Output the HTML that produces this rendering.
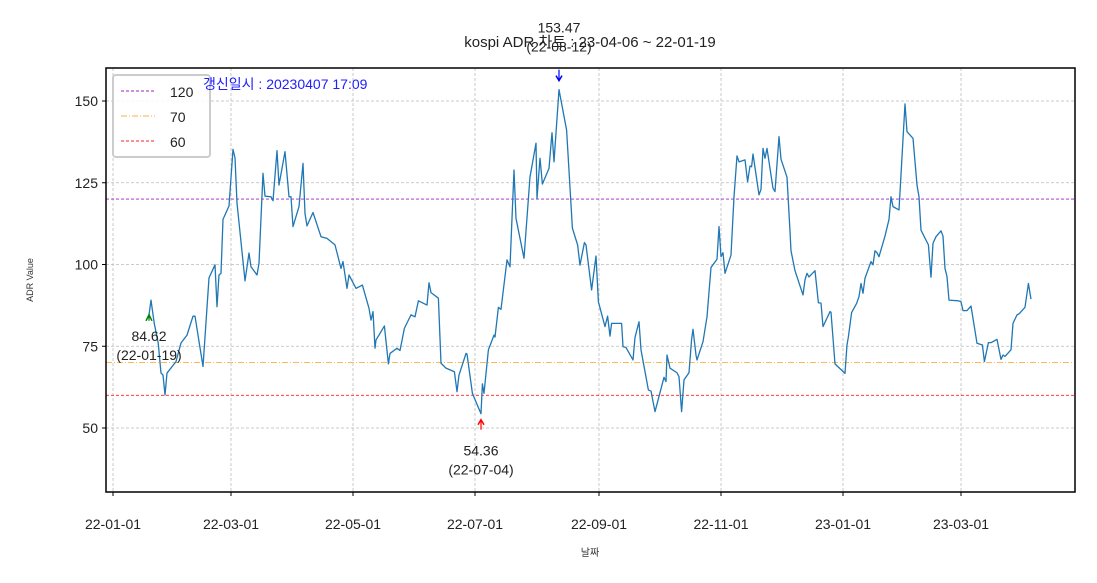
<!DOCTYPE html>
<html><head><meta charset="utf-8"><style>
body{margin:0;background:#fff;}
svg{display:block;font-family:"Liberation Sans","Noto Sans CJK KR",sans-serif;}
</style></head><body>
<svg id="chart" width="1097" height="583" viewBox="0 0 1097 583" xmlns="http://www.w3.org/2000/svg">
<rect x="0" y="0" width="1097" height="583" fill="#fff"/>
<g id="grid"></g><g id="refs"></g><g id="series"></g><g id="ticks"></g>
<rect x="106" y="68" width="969" height="424" fill="none" stroke="#000" stroke-width="1.5"/>
<text x="590" y="47" font-size="15" text-anchor="middle" fill="#222">kospi ADR 차트 : 23-04-06 ~ 22-01-19</text>
<text transform="translate(33,280) rotate(-90)" font-size="9" text-anchor="middle" fill="#333">ADR Value</text>
<text x="590" y="556" font-size="10" text-anchor="middle" fill="#333">날짜</text>
<g>
<rect x="113" y="75" width="97" height="82" rx="3" fill="#fff" fill-opacity="0.85" stroke="#ccc" stroke-width="2"/>
<line x1="121" y1="91" x2="155" y2="91" stroke="#a020c0" stroke-width="1" stroke-dasharray="3,2"/>
<text x="170" y="97" font-size="14" fill="#222">120</text>
<line x1="121" y1="116" x2="155" y2="116" stroke="#fbb040" stroke-width="1" stroke-dasharray="6,2,1,2"/>
<text x="170" y="122" font-size="14" fill="#222">70</text>
<line x1="121" y1="141" x2="155" y2="141" stroke="#ff2020" stroke-width="1" stroke-dasharray="3,2"/>
<text x="170" y="147" font-size="14" fill="#222">60</text>
</g>
<text x="203" y="89" font-size="14" fill="#2020ff">갱신일시 : 20230407 17:09</text>
<g id="annot"></g>
</svg>
<script>
const days=[18,19,20.6,22.6,24,25,26,27,31.5,34,37,40,41,45,48,51,52,53,54,55,58,60,61,62,66,68,69,72,73,75,76,79,80,82,83,86,88,89,90,93,95,96,97,100,104,107,111,114,115,117,118,121.5,124.7,128,129,130,131,131.5,135.7,137.7,138.5,142,143.5,145.7,149,151,152.7,157,158,159,162.7,164,166.5,170.7,172,173,176.5,177,179.7,184,184.7,185.5,187.7,190.5,191,192.7,194,197,198.5,200.5,201.5,205.5,208.5,211.5,212,213.5,214.7,218,219.5,220.5,223,226.8,229.7,232.3,233.5,235.7,236.5,239.3,241.5,242.7,246,247.3,248.5,249.3,254.3,255,256.5,260,261,263,264,267.7,269,271,275.5,276.5,277,278.5,282,283,284.3,285.5,288,289.3,290,291.5,292,295,297,299,302,303,304,305,306,309,310.5,312,313,316,317.3,318.5,319.3,320,323,324,325,326,327,330,331,333,334,337,338.5,339,341,345,346,347,348,351,352.7,354,355,358.5,359,361,366,367,367.7,369.3,371.8,373,374,375,376,379,380,381,382,383,386,388,389,390,393,396,397,400,402,403,404,407.7,409,410,411.5,414,415,416,417,418,422.7,424,425,427,429,432,434.7,435.7,437.7,439,442,444,445,446,449,450,452,453,456,457.7,459];
const values=[84.6,89.1,82.1,76.0,66.8,66.2,60.1,66.8,70.3,76.0,78.4,84.2,84.2,68.8,95.9,99.9,87.1,96.8,97.3,113.8,117.9,135.2,132.6,118.8,95.0,103.5,99.3,96.8,100.4,127.9,120.9,120.7,119.5,134.8,124.3,134.5,120.7,120.7,111.6,117.7,130.9,115.6,111.8,115.9,108.5,108.0,106.0,98.8,100.9,92.7,96.8,92.7,93.7,86.6,83.0,85.6,74.4,76.9,81.2,69.6,72.8,74.4,73.7,80.5,84.6,84.0,88.9,87.6,94.4,91.4,89.7,69.8,68.3,67.2,61.1,66.2,72.8,72.6,60.6,54.36,63.5,60.6,73.9,78.4,77.8,86.9,86.3,101.4,99.3,128.9,114.1,101.9,126.8,137.1,120.2,132.5,124.6,129.4,140.3,131.4,153.47,141.1,111.1,106.0,99.8,106.7,106.0,92.2,102.6,88.6,81.0,84.2,78.1,82.0,82.0,74.9,74.6,70.8,77.7,82.5,73.9,61.6,61.3,55.0,65.5,64.2,72.3,68.3,66.9,65.7,55.0,64.7,66.9,77.1,80.2,72.3,70.8,76.4,84.0,99.1,101.6,111.6,102.4,103.6,97.3,102.9,120.7,133.2,131.4,132.0,125.3,130.1,129.9,133.8,121.3,123.0,135.5,132.5,135.5,123.3,122.3,139.1,132.2,126.7,110.1,104.2,98.1,90.7,95.3,97.3,96.2,98.1,88.3,88.2,81.0,85.6,85.4,69.6,66.7,75.4,77.9,85.3,88.1,90.2,94.2,91.2,95.8,100.9,99.9,104.2,103.6,102.4,108.7,113.8,120.7,117.7,116.7,149.1,140.6,138.6,124.3,120.7,110.5,106.0,96.1,106.5,108.5,110.3,108.7,98.8,96.3,89.1,88.9,88.6,85.9,85.9,87.3,75.9,75.4,70.3,76.1,76.1,77.1,71.0,72.3,71.9,73.9,82.0,84.6,84.9,86.9,94.2,89.4];
const yTicks=[50,75,100,125,150];
const xTickDays=[0,59,120,181,243,304,365,424];
const xTickLabels=["22-01-01","22-03-01","22-05-01","22-07-01","22-09-01","22-11-01","23-01-01","23-03-01"];
const refLevels=[120,70,60];
const refColors=["#a020c0","#fbb040","#ff2020"];
const refDash=["3,2","6,2,1,2","3,2"];
const NS="http://www.w3.org/2000/svg";
const X=d=>113+2*d, Y=v=>428-(v-50)*3.27;
function mk(t,a,p){const e=document.createElementNS(NS,t);for(const k in a)e.setAttribute(k,a[k]);p.appendChild(e);return e;}
const grid=document.getElementById('grid'),ticks=document.getElementById('ticks');
yTicks.forEach(v=>{
 const l=mk('line',{x1:106,x2:1075,y1:Y(v),y2:Y(v),stroke:'#bbb','stroke-width':0.8,'stroke-dasharray':'3,2'},grid);
 
 
 mk('line',{x1:102,x2:106,y1:Y(v),y2:Y(v),stroke:'#000'},ticks);
 const t=mk('text',{x:98,y:Y(v)+5,'font-size':14,'text-anchor':'end',fill:'#222'},ticks);t.textContent=v;
 
 
});
xTickDays.forEach((d,i)=>{
 const l=mk('line',{x1:X(d),x2:X(d),y1:68,y2:492,stroke:'#bbb','stroke-width':0.8,'stroke-dasharray':'3,2'},grid);
 
 
 mk('line',{x1:X(d),x2:X(d),y1:492,y2:496,stroke:'#000'},ticks);
 const t=mk('text',{x:X(d),y:529,'font-size':14,'text-anchor':'middle',fill:'#222'},ticks);t.textContent=xTickLabels[i];
 
 
});
const refs=document.getElementById('refs');
refLevels.forEach((v,i)=>{
 const l=mk('line',{x1:106,x2:1075,y1:Y(v),y2:Y(v),stroke:refColors[i],'stroke-width':0.9,'stroke-dasharray':refDash[i]},refs);
 
 
});
const pl=mk('polyline',{points:days.map((d,i)=>X(d)+','+Y(values[i])).join(' '),fill:'none',stroke:'#1f77b4','stroke-width':1.3,'stroke-linejoin':'round'},document.getElementById('series'));


const an=document.getElementById('annot');
let iMax=0,iMin=0;values.forEach((v,i)=>{if(v>values[iMax])iMax=i;if(v<values[iMin])iMin=i;});
function label(x,y,l1,l2,name){const g=mk('g',{},an);
 
 
 const a=mk('text',{x:x,y:y,'font-size':14,'text-anchor':'middle',fill:'#222'},g);a.textContent=l1;
 const b=mk('text',{x:x,y:y+19,'font-size':14,'text-anchor':'middle',fill:'#222'},g);b.textContent=l2;}
{const x=X(days[iMax]),y=Y(values[iMax]);
 mk('line',{x1:x,x2:x,y1:y-20,y2:y-10,stroke:'#0000ff','stroke-width':1.2},an);
 mk('path',{d:`M${x-3},${y-14} L${x},${y-9} L${x+3},${y-14}`,fill:'none',stroke:'#0000ff','stroke-width':1.5},an);
 label(x,y-57,values[iMax].toFixed(2),'(22-08-12)','max-annotation');}
{const x=X(days[iMin]),y=Y(values[iMin]);
 mk('line',{x1:x,x2:x,y1:y+6,y2:y+16,stroke:'#ff0000','stroke-width':1.2},an);
 mk('path',{d:`M${x-3},${y+11} L${x},${y+6} L${x+3},${y+11}`,fill:'none',stroke:'#ff0000','stroke-width':1.5},an);
 label(x,y+42,values[iMin].toFixed(2),'(22-07-04)','min-annotation');}
{const x=X(days[0]),y=Y(84.62);
 mk('path',{d:`M${x-3},${y+6} L${x},${y} L${x+3},${y+6}`,fill:'none',stroke:'#008000','stroke-width':1.5},an);
 mk('line',{x1:x,x2:x,y1:y,y2:y+6,stroke:'#008000','stroke-width':1.2},an);
 label(x,y+26,'84.62','(22-01-19)','start-annotation');}
</script>
</body></html>
